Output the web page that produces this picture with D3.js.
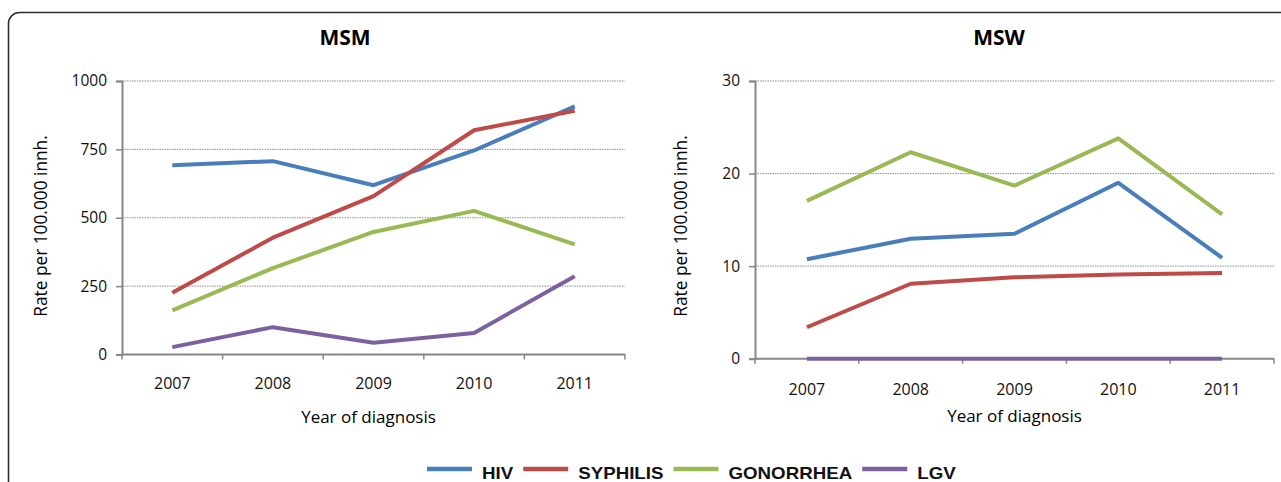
<!DOCTYPE html>
<html>
<head>
<meta charset="utf-8">
<script src="https://cdn.jsdelivr.net/npm/d3@7"></script>
<style>
  body { margin: 0; background: #fff; }
  svg { display: block; font-family: "Open Sans", sans-serif; }
</style>
</head>
<body>
<svg id="vis" width="1281" height="482"></svg>
<script>
// data
const years = ["2007", "2008", "2009", "2010", "2011"];
const seriesNames = ["HIV", "SYPHILIS", "GONORRHEA", "LGV"];
const seriesColors = ["#4a7ebb", "#be4b48", "#98b954", "#7d60a0"];

const msmHiv = [692, 707, 619, 746, 907];
const msmSyphilis = [226, 427, 579, 820, 891];
const msmGonorrhea = [161, 316, 448, 525, 403];
const msmLgv = [27, 100, 43, 79, 286];

const mswHiv = [10.75, 12.95, 13.5, 19.0, 10.9];
const mswSyphilis = [3.4, 8.1, 8.8, 9.1, 9.25];
const mswGonorrhea = [17.05, 22.3, 18.7, 23.8, 15.6];
const mswLgv = [0, 0, 0, 0, 0];

const msmTicks = [0, 250, 500, 750, 1000];
const mswTicks = [0, 10, 20, 30];

const svg = d3.select("svg#vis");

// outer frame (rounded corner top-left, runs off the picture)
svg.append("rect")
  .attr("x", 8.5)
  .attr("y", 12.5)
  .attr("width", 1400)
  .attr("height", 600)
  .attr("rx", 11)
  .attr("fill", "none")
  .attr("stroke", "#2b2b2b")
  .attr("stroke-width", 1.6);

function translate(x, y) {
  return "translate(" + String(x) + "," + String(y) + ")";
}

function drawPanel(cfg) {
  const g = svg.append("g");

  const x = d3.scaleBand()
    .domain(years)
    .range([cfg.left, cfg.right]);

  const y = d3.scaleLinear()
    .domain([0, cfg.max])
    .range([cfg.bottom, cfg.top]);

  // dotted gridlines
  g.selectAll("line.grid")
    .data(cfg.ticks.filter(d => d > 0))
    .enter()
    .append("line")
    .attr("class", "grid")
    .attr("x1", cfg.left)
    .attr("x2", cfg.right)
    .attr("y1", d => y(d))
    .attr("y2", d => y(d))
    .attr("stroke", "#8c8c8c")
    .attr("stroke-width", 1)
    .attr("stroke-dasharray", "1.5,1");

  // y axis
  const yAxis = d3.axisLeft(y)
    .tickValues(cfg.ticks)
    .tickFormat(d3.format("d"))
    .tickSize(6)
    .tickPadding(9);
  const yGroup = g.append("g").attr("transform", translate(cfg.left, 0)).call(yAxis);
  yGroup.attr("font-family", "Open Sans").attr("font-size", 15.5);
  yGroup.select(".domain").attr("stroke", "#868686").attr("stroke-width", 2);
  yGroup.selectAll(".tick line").attr("stroke", "#868686").attr("stroke-width", 1.5);
  yGroup.selectAll("text").attr("fill", "#111");

  // x axis: labels centred in each band, ticks at band edges
  const xAxis = d3.axisBottom(x).tickSize(0).tickPadding(cfg.labelPad);
  const xGroup = g.append("g").attr("transform", translate(0, cfg.bottom)).call(xAxis);
  xGroup.attr("font-family", "Open Sans").attr("font-size", 16);
  xGroup.select(".domain").remove();
  xGroup.selectAll("text").attr("fill", "#111");

  const edges = years.map(d => x(d)).concat([x(years[years.length - 1]) + x.bandwidth()]);
  g.selectAll("line.xtick")
    .data(edges)
    .enter()
    .append("line")
    .attr("x1", d => d)
    .attr("x2", d => d)
    .attr("y1", cfg.bottom)
    .attr("y2", cfg.bottom + 5)
    .attr("stroke", "#868686")
    .attr("stroke-width", 1.5);

  g.append("line")
    .attr("x1", cfg.left)
    .attr("x2", cfg.right)
    .attr("y1", cfg.bottom)
    .attr("y2", cfg.bottom)
    .attr("stroke", "#868686")
    .attr("stroke-width", 2);

  // series lines
  const line = d3.line()
    .x((d, i) => x(years[i]) + x.bandwidth() / 2)
    .y(d => y(d));

  cfg.series.forEach(function(values, i) {
    g.append("path")
      .datum(values)
      .attr("d", line)
      .attr("fill", "none")
      .attr("stroke", seriesColors[i])
      .attr("stroke-width", 4)
      .attr("stroke-linejoin", "round");
  });

  // title
  g.append("text")
    .attr("x", cfg.titleX)
    .attr("y", 45)
    .attr("text-anchor", "middle")
    .attr("font-family", "Open Sans")
    .attr("font-weight", 700)
    .attr("font-size", 21)
    .text(cfg.title);

  // axis titles
  g.append("text")
    .attr("x", (cfg.left + cfg.right) / 2 - cfg.xTitleShift)
    .attr("y", cfg.xTitleY)
    .attr("text-anchor", "middle")
    .attr("font-family", "Open Sans")
    .attr("font-size", 17)
    .text("Year of diagnosis");

  g.append("text")
    .attr("transform", translate(cfg.yTitleX, 226) + " rotate(-90)")
    .attr("text-anchor", "middle")
    .attr("font-family", "Open Sans")
    .attr("font-size", 17.3)
    .text("Rate per 100.000 innh.");
}

drawPanel({
  title: "MSM",
  titleX: 345,
  left: 122, right: 625, top: 81, bottom: 354.5,
  max: 1000, ticks: msmTicks,
  labelPad: 23, xTitleY: 423, xTitleShift: 5, yTitleX: 47,
  series: [msmHiv, msmSyphilis, msmGonorrhea, msmLgv]
});

drawPanel({
  title: "MSW",
  titleX: 999,
  left: 755, right: 1274, top: 81, bottom: 358.7,
  max: 30, ticks: mswTicks,
  labelPad: 25, xTitleY: 422, xTitleShift: 0, yTitleX: 687,
  series: [mswHiv, mswSyphilis, mswGonorrhea, mswLgv]
});

// legend
const legend = svg.append("g").attr("transform", translate(427, 0));
let lx = 0;
seriesNames.forEach(function(name, i) {
  legend.append("line")
    .attr("x1", lx)
    .attr("x2", lx + 45)
    .attr("y1", 469)
    .attr("y2", 469)
    .attr("stroke", seriesColors[i])
    .attr("stroke-width", 4.5);
  const t = legend.append("text")
    .attr("transform", translate(lx + 55, 479) + " scale(1.17,1)")
    .attr("font-family", "Liberation Sans")
    .attr("font-weight", 700)
    .attr("font-size", 16)
    .attr("fill", "#111")
    .text(name);
  lx += 55 + t.node().getComputedTextLength() * 1.17 + 10;
});
</script>
</body>
</html>
